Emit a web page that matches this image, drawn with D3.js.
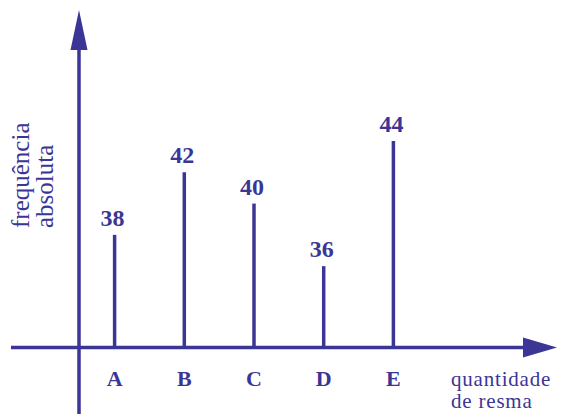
<!DOCTYPE html>
<meta charset="utf-8">
<style>
  body { margin: 0; background: #fff; }
  svg text { font-family: "Liberation Serif", "Times New Roman", Tinos, "DejaVu Serif", "Noto Serif", serif; }
</style>
<body>
  <div id="graph"></div>
  <script src="https://cdn.jsdelivr.net/npm/d3@7"></script>
  <script>
    // data
    var categories = ["A", "B", "C", "D", "E"];
    var values = [38, 42, 40, 36, 44];
    var xTitle = ["quantidade", "de resma"];
    var yTitle = ["frequência", "absoluta"];

    var width = 565,
      height = 414,
      ink = "#3b3596";

    var originX = 79,
      originY = 347.5;

    // x positions of the categories
    var x = d3.scalePoint()
      .domain(categories)
      .range([114.6, 393.4]);

    // the drawing is not to scale from zero, so the baseline sits near 31
    var y = d3.scaleLinear()
      .domain([30.8, 44])
      .range([originY, 141]);

    var svg = d3.select("#graph")
      .append("svg")
      .attr("width", width)
      .attr("height", height);

    // axes with arrow heads
    svg.append("line")
      .attr("x1", 11).attr("x2", 525)
      .attr("y1", originY).attr("y2", originY)
      .attr("stroke", ink)
      .attr("stroke-width", 3.5);

    svg.append("path")
      .attr("d", "M523," + (originY - 10) + "L557," + originY + "L523," + (originY + 10) + "Z")
      .attr("fill", ink);

    svg.append("line")
      .attr("x1", originX).attr("x2", originX)
      .attr("y1", height).attr("y2", 48)
      .attr("stroke", ink)
      .attr("stroke-width", 3.5);

    svg.append("path")
      .attr("d", "M" + (originX - 8.5) + ",50L" + originX + ",10L" + (originX + 8.5) + ",50Z")
      .attr("fill", ink);

    // bars (sticks)
    svg.selectAll(".bar")
      .data(values)
      .enter().append("line")
      .attr("class", "bar")
      .attr("x1", function(d, i) { return x(categories[i]); })
      .attr("x2", function(d, i) { return x(categories[i]); })
      .attr("y1", originY)
      .attr("y2", function(d) { return y(d); })
      .attr("stroke", ink)
      .attr("stroke-width", 3.5);

    // value labels
    svg.selectAll(".val")
      .data(values)
      .enter().append("text")
      .attr("class", "val")
      .attr("x", function(d, i) { return x(categories[i]) - 2; })
      .attr("y", function(d) { return y(d) - 9; })
      .attr("text-anchor", "middle")
      .attr("font-size", "24px")
      .attr("font-weight", "bold")
      .attr("fill", ink)
      .text(function(d) { return d; });

    // category labels
    svg.selectAll(".cat")
      .data(categories)
      .enter().append("text")
      .attr("class", "cat")
      .attr("x", function(d) { return x(d); })
      .attr("y", 386)
      .attr("text-anchor", "middle")
      .attr("font-size", "22px")
      .attr("font-weight", "bold")
      .attr("fill", ink)
      .text(function(d) { return d; });

    // x title
    svg.selectAll(".xtitle")
      .data(xTitle)
      .enter().append("text")
      .attr("class", "xtitle")
      .attr("x", 451)
      .attr("y", function(d, i) { return 386 + i * 22; })
      .attr("font-size", "21px")
      .attr("letter-spacing", "0.8px")
      .attr("fill", ink)
      .text(function(d) { return d; });

    // y title
    svg.selectAll(".ytitle")
      .data(yTitle)
      .enter().append("text")
      .attr("class", "ytitle")
      .attr("transform", function(d, i) {
        return "translate(" + (29 + i * 24) + ",228) rotate(-90)";
      })
      .attr("font-size", "25px")
      .attr("fill", ink)
      .text(function(d) { return d; });
  </script>
</body>
